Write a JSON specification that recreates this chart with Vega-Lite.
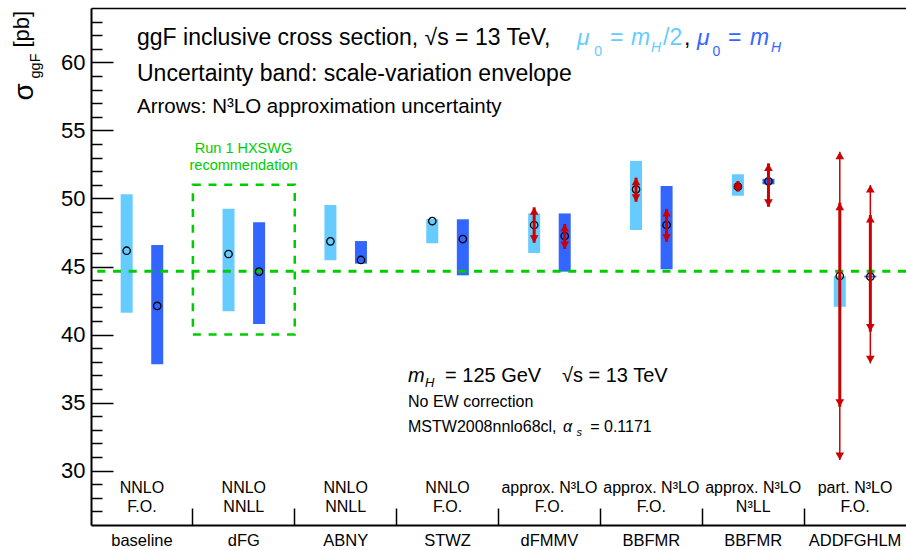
{
  "$schema": "https://vega.github.io/schema/vega-lite/v6.json",
  "width": 815,
  "height": 517,
  "autosize": "none",
  "padding": {"left": 91, "top": 8, "right": 0, "bottom": 25},
  "background": "white",
  "config": {
    "view": {"stroke": null},
    "font": "Liberation Sans",
    "text": {"font": "Liberation Sans", "color": "black"},
    "axis": {"labelFont": "Liberation Sans", "titleFont": "Liberation Sans", "labelColor": "black", "titleColor": "black", "titleFontWeight": "normal", "domainColor": "black", "tickColor": "black", "grid": false}
  },
  "datasets": {
    "bands": [
      {"key": "baseline", "scale": "mH/2", "central": 46.16, "low": 41.60, "high": 50.31},
      {"key": "baseline", "scale": "mH", "central": 42.10, "low": 37.81, "high": 46.58},
      {"key": "dFG", "scale": "mH/2", "central": 45.92, "low": 41.71, "high": 49.25},
      {"key": "dFG", "scale": "mH", "central": 44.62, "low": 40.77, "high": 48.25},
      {"key": "ABNY", "scale": "mH/2", "central": 46.85, "low": 45.46, "high": 49.52},
      {"key": "ABNY", "scale": "mH", "central": 45.48, "low": 45.21, "high": 46.87},
      {"key": "STWZ", "scale": "mH/2", "central": 48.34, "low": 46.71, "high": 48.49},
      {"key": "STWZ", "scale": "mH", "central": 47.02, "low": 44.35, "high": 48.47},
      {"key": "dFMMV", "scale": "mH/2", "central": 48.05, "low": 45.99, "high": 48.90},
      {"key": "dFMMV", "scale": "mH", "central": 47.24, "low": 44.62, "high": 48.90},
      {"key": "BBFMR F.O.", "scale": "mH/2", "central": 50.67, "low": 47.68, "high": 52.75},
      {"key": "BBFMR F.O.", "scale": "mH", "central": 48.05, "low": 44.79, "high": 50.92},
      {"key": "BBFMR N3LL", "scale": "mH/2", "central": 50.87, "low": 50.20, "high": 51.78},
      {"key": "BBFMR N3LL", "scale": "mH", "central": 51.26, "low": 51.04, "high": 51.45},
      {"key": "ADDFGHLM", "scale": "mH/2", "central": 44.30, "low": 42.04, "high": 44.30},
      {"key": "ADDFGHLM", "scale": "mH", "central": 44.25, "low": 44.19, "high": 44.33}
    ],
    "arrows": [
      {"key": "dFMMV", "scale": "mH/2", "kind": "inner", "lo": 46.75, "hi": 49.35},
      {"key": "dFMMV", "scale": "mH", "kind": "inner", "lo": 46.29, "hi": 48.12},
      {"key": "BBFMR F.O.", "scale": "mH/2", "kind": "inner", "lo": 49.76, "hi": 51.53},
      {"key": "BBFMR F.O.", "scale": "mH", "kind": "inner", "lo": 46.82, "hi": 49.23},
      {"key": "BBFMR N3LL", "scale": "mH/2", "kind": "inner", "lo": 50.50, "hi": 51.28},
      {"key": "BBFMR N3LL", "scale": "mH", "kind": "inner", "lo": 49.39, "hi": 52.58},
      {"key": "ADDFGHLM", "scale": "mH/2", "kind": "outer", "lo": 30.78, "hi": 53.44},
      {"key": "ADDFGHLM", "scale": "mH/2", "kind": "inner", "lo": 34.69, "hi": 49.69},
      {"key": "ADDFGHLM", "scale": "mH", "kind": "outer", "lo": 37.88, "hi": 50.99},
      {"key": "ADDFGHLM", "scale": "mH", "kind": "inner", "lo": 40.21, "hi": 48.78}
    ],
    "cats": [
      {"key": "baseline", "method": "NNLO\nF.O."},
      {"key": "dFG", "method": "NNLO\nNNLL"},
      {"key": "ABNY", "method": "NNLO\nNNLL"},
      {"key": "STWZ", "method": "NNLO\nF.O."},
      {"key": "dFMMV", "method": "approx. N³LO\nF.O."},
      {"key": "BBFMR F.O.", "method": "approx. N³LO\nF.O."},
      {"key": "BBFMR N3LL", "method": "approx. N³LO\nN³LL"},
      {"key": "ADDFGHLM", "method": "part. N³LO\nF.O."}
    ]
  },
  "resolve": {"scale": {"x": "independent"}, "axis": {"x": "independent", "y": "independent"}},
  "layer": [
    {
      "data": {"name": "bands"},
      "mark": {"type": "bar", "width": 12},
      "encoding": {
        "x": {"field": "key", "type": "nominal",
          "scale": {"domain": ["baseline", "dFG", "ABNY", "STWZ", "dFMMV", "BBFMR F.O.", "BBFMR N3LL", "ADDFGHLM"], "paddingInner": 0, "paddingOuter": 0},
          "axis": {"orient": "bottom", "title": null, "ticks": false, "tickSize": 0, "domain": true, "domainWidth": 2, "labelFontSize": 16.5, "labelBaseline": "alphabetic", "labelPadding": 20, "labelAngle": 0, "labelExpr": "split(datum.label, ' ')[0]"}},
        "xOffset": {"field": "scale", "type": "nominal", "scale": {"domain": ["mH/2", "mH"], "paddingInner": 0, "paddingOuter": 0.667}},
        "y": {"field": "low", "type": "quantitative", "scale": {"domain": [26, 64], "nice": false, "zero": false},
          "axis": {"orient": "left", "values": [30, 35, 40, 45, 50, 55, 60], "ticks": false, "tickSize": 0, "labelPadding": 6, "labelFontSize": 22, "domain": true, "domainWidth": 2, "title": "[pb]", "titleFontSize": 22, "titleAngle": 270, "titleAlign": "left", "titleBaseline": "alphabetic", "titleX": -62.6, "titleY": 39}},
        "y2": {"field": "high"},
        "color": {"field": "scale", "type": "nominal", "scale": {"domain": ["mH/2", "mH"], "range": ["#66ccff", "#3366ff"]}, "legend": null}
      }
    },
    {
      "data": {"values": [{"label": "Run 1 HXSWG recommendation", "value": 44.66}]},
      "mark": {"type": "rule", "color": "#00cc00", "strokeWidth": 3, "strokeDash": [8, 7.7]},
      "encoding": {
        "y": {"field": "value", "type": "quantitative", "scale": {"domain": [26, 64], "nice": false, "zero": false}, "axis": null}
      }
    },
    {
      "data": {"values": [{"key": "dFG", "low": 40, "high": 51}]},
      "mark": {"type": "rect", "fillOpacity": 0, "stroke": "#00cc00", "strokeWidth": 2.5, "strokeDash": [8, 7.7]},
      "encoding": {
        "x": {"field": "key", "type": "nominal",
          "scale": {"domain": ["baseline", "dFG", "ABNY", "STWZ", "dFMMV", "BBFMR F.O.", "BBFMR N3LL", "ADDFGHLM"], "paddingInner": 0, "paddingOuter": 0},
          "axis": {"orient": "top", "title": null, "labels": false, "ticks": false, "domain": true, "domainWidth": 1.5}},
        "y": {"field": "low", "type": "quantitative", "scale": {"domain": [26, 64], "nice": false, "zero": false}, "axis": null},
        "y2": {"field": "high"}
      }
    },
    {
      "data": {"name": "bands"},
      "mark": {"type": "point", "shape": "circle", "filled": false, "stroke": "black", "strokeWidth": 1.3, "size": 55, "opacity": 1},
      "encoding": {
        "x": {"field": "key", "type": "nominal",
          "scale": {"domain": ["baseline", "dFG", "ABNY", "STWZ", "dFMMV", "BBFMR F.O.", "BBFMR N3LL", "ADDFGHLM"], "paddingInner": 0, "paddingOuter": 0},
          "axis": {"orient": "bottom", "bandPosition": 0, "values": ["dFG", "ABNY", "STWZ", "dFMMV", "BBFMR F.O.", "BBFMR N3LL", "ADDFGHLM"], "labels": false, "domain": false, "ticks": true, "tickSize": -17, "tickWidth": 1.5, "title": null}},
        "xOffset": {"field": "scale", "type": "nominal", "scale": {"domain": ["mH/2", "mH"], "paddingInner": 0, "paddingOuter": 0.667}},
        "y": {"field": "central", "type": "quantitative", "scale": {"domain": [26, 64], "nice": false, "zero": false},
          "axis": {"orient": "left", "values": [30, 35, 40, 45, 50, 55, 60], "labels": false, "domain": false, "ticks": true, "tickSize": -22, "tickWidth": 1.5, "title": "σ", "titleFontSize": 28, "titleAngle": 270, "titleAlign": "left", "titleBaseline": "alphabetic", "titleX": -59, "titleY": 92}}
      }
    },
    {
      "data": {"name": "arrows"},
      "mark": {"type": "rule", "color": "#cc0000"},
      "encoding": {
        "x": {"field": "key", "type": "nominal",
          "scale": {"domain": ["baseline", "dFG", "ABNY", "STWZ", "dFMMV", "BBFMR F.O.", "BBFMR N3LL", "ADDFGHLM"], "paddingInner": 0, "paddingOuter": 0}, "axis": null},
        "xOffset": {"field": "scale", "type": "nominal", "scale": {"domain": ["mH/2", "mH"], "paddingInner": 0, "paddingOuter": 0.667}},
        "y": {"field": "lo", "type": "quantitative", "scale": {"domain": [26, 64], "nice": false, "zero": false},
          "axis": {"orient": "left", "values": [27, 28, 29, 31, 32, 33, 34, 36, 37, 38, 39, 41, 42, 43, 44, 46, 47, 48, 49, 51, 52, 53, 54, 56, 57, 58, 59, 61, 62, 63], "labels": false, "domain": false, "ticks": true, "tickSize": -11, "tickWidth": 1.5, "title": "ggF", "titleFontSize": 14.5, "titleAngle": 270, "titleAlign": "left", "titleBaseline": "alphabetic", "titleX": -52, "titleY": 70}},
        "y2": {"field": "hi"},
        "strokeWidth": {"field": "kind", "type": "nominal", "scale": {"domain": ["inner", "outer"], "range": [3, 1.5]}, "legend": null}
      }
    },
    {
      "data": {"name": "arrows"},
      "mark": {"type": "point", "shape": "triangle-up", "filled": true, "color": "#cc0000", "size": 75, "opacity": 1, "yOffset": 3.8},
      "encoding": {
        "x": {"field": "key", "type": "nominal",
          "scale": {"domain": ["baseline", "dFG", "ABNY", "STWZ", "dFMMV", "BBFMR F.O.", "BBFMR N3LL", "ADDFGHLM"], "paddingInner": 0, "paddingOuter": 0}, "axis": null},
        "xOffset": {"field": "scale", "type": "nominal", "scale": {"domain": ["mH/2", "mH"], "paddingInner": 0, "paddingOuter": 0.667}},
        "y": {"field": "hi", "type": "quantitative", "scale": {"domain": [26, 64], "nice": false, "zero": false}, "axis": null}
      }
    },
    {
      "data": {"name": "arrows"},
      "mark": {"type": "point", "shape": "triangle-down", "filled": true, "color": "#cc0000", "size": 75, "opacity": 1, "yOffset": -3.8},
      "encoding": {
        "x": {"field": "key", "type": "nominal",
          "scale": {"domain": ["baseline", "dFG", "ABNY", "STWZ", "dFMMV", "BBFMR F.O.", "BBFMR N3LL", "ADDFGHLM"], "paddingInner": 0, "paddingOuter": 0}, "axis": null},
        "xOffset": {"field": "scale", "type": "nominal", "scale": {"domain": ["mH/2", "mH"], "paddingInner": 0, "paddingOuter": 0.667}},
        "y": {"field": "lo", "type": "quantitative", "scale": {"domain": [26, 64], "nice": false, "zero": false}, "axis": null}
      }
    },
    {
      "data": {"name": "cats"},
      "mark": {"type": "text", "fontSize": 16, "lineBreak": "\n", "lineHeight": 19, "baseline": "alphabetic", "align": "center", "color": "black"},
      "encoding": {
        "x": {"field": "key", "type": "nominal",
          "scale": {"domain": ["baseline", "dFG", "ABNY", "STWZ", "dFMMV", "BBFMR F.O.", "BBFMR N3LL", "ADDFGHLM"], "paddingInner": 0, "paddingOuter": 0}, "axis": null},
        "y": {"datum": 28.33, "type": "quantitative", "scale": {"domain": [26, 64], "nice": false, "zero": false}, "axis": null},
        "text": {"field": "method"}
      }
    },
    {"data": {"values": [{"label": "ggF inclusive cross section, √s = 13 TeV,"}]},
     "mark": {"type": "text", "fontSize": 23, "align": "left", "baseline": "alphabetic", "color": "black"},
     "encoding": {"x": {"datum": 0.4515, "type": "quantitative", "scale": {"domain": [0, 8], "nice": false, "zero": false}, "axis": null},
       "y": {"datum": 61.28, "type": "quantitative", "scale": {"domain": [26, 64], "nice": false, "zero": false}, "axis": null}, "text": {"field": "label"}}},
    {"data": {"values": [{"label": "μ"}]},
     "mark": {"type": "text", "fontSize": 23, "fontStyle": "italic", "align": "left", "baseline": "alphabetic", "color": "#66ccff"},
     "encoding": {"x": {"datum": 4.771, "type": "quantitative", "scale": {"domain": [0, 8], "nice": false, "zero": false}, "axis": null},
       "y": {"datum": 61.28, "type": "quantitative", "scale": {"domain": [26, 64], "nice": false, "zero": false}, "axis": null}, "text": {"field": "label"}}},
    {"data": {"values": [{"label": "0"}]},
     "mark": {"type": "text", "fontSize": 14, "align": "left", "baseline": "alphabetic", "color": "#66ccff"},
     "encoding": {"x": {"datum": 4.94, "type": "quantitative", "scale": {"domain": [0, 8], "nice": false, "zero": false}, "axis": null},
       "y": {"datum": 60.47, "type": "quantitative", "scale": {"domain": [26, 64], "nice": false, "zero": false}, "axis": null}, "text": {"field": "label"}}},
    {"data": {"values": [{"label": "="}]},
     "mark": {"type": "text", "fontSize": 23, "align": "left", "baseline": "alphabetic", "color": "#66ccff"},
     "encoding": {"x": {"datum": 5.094, "type": "quantitative", "scale": {"domain": [0, 8], "nice": false, "zero": false}, "axis": null},
       "y": {"datum": 61.28, "type": "quantitative", "scale": {"domain": [26, 64], "nice": false, "zero": false}, "axis": null}, "text": {"field": "label"}}},
    {"data": {"values": [{"label": "m"}]},
     "mark": {"type": "text", "fontSize": 23, "fontStyle": "italic", "align": "left", "baseline": "alphabetic", "color": "#66ccff"},
     "encoding": {"x": {"datum": 5.301, "type": "quantitative", "scale": {"domain": [0, 8], "nice": false, "zero": false}, "axis": null},
       "y": {"datum": 61.28, "type": "quantitative", "scale": {"domain": [26, 64], "nice": false, "zero": false}, "axis": null}, "text": {"field": "label"}}},
    {"data": {"values": [{"label": "H"}]},
     "mark": {"type": "text", "fontSize": 14, "fontStyle": "italic", "align": "left", "baseline": "alphabetic", "color": "#66ccff"},
     "encoding": {"x": {"datum": 5.497, "type": "quantitative", "scale": {"domain": [0, 8], "nice": false, "zero": false}, "axis": null},
       "y": {"datum": 60.77, "type": "quantitative", "scale": {"domain": [26, 64], "nice": false, "zero": false}, "axis": null}, "text": {"field": "label"}}},
    {"data": {"values": [{"label": "/2"}]},
     "mark": {"type": "text", "fontSize": 23, "align": "left", "baseline": "alphabetic", "color": "#66ccff"},
     "encoding": {"x": {"datum": 5.615, "type": "quantitative", "scale": {"domain": [0, 8], "nice": false, "zero": false}, "axis": null},
       "y": {"datum": 61.28, "type": "quantitative", "scale": {"domain": [26, 64], "nice": false, "zero": false}, "axis": null}, "text": {"field": "label"}}},
    {"data": {"values": [{"label": ","}]},
     "mark": {"type": "text", "fontSize": 23, "align": "left", "baseline": "alphabetic", "color": "black"},
     "encoding": {"x": {"datum": 5.821, "type": "quantitative", "scale": {"domain": [0, 8], "nice": false, "zero": false}, "axis": null},
       "y": {"datum": 61.28, "type": "quantitative", "scale": {"domain": [26, 64], "nice": false, "zero": false}, "axis": null}, "text": {"field": "label"}}},
    {"data": {"values": [{"label": "μ"}]},
     "mark": {"type": "text", "fontSize": 23, "fontStyle": "italic", "align": "left", "baseline": "alphabetic", "color": "#3366ff"},
     "encoding": {"x": {"datum": 5.948, "type": "quantitative", "scale": {"domain": [0, 8], "nice": false, "zero": false}, "axis": null},
       "y": {"datum": 61.28, "type": "quantitative", "scale": {"domain": [26, 64], "nice": false, "zero": false}, "axis": null}, "text": {"field": "label"}}},
    {"data": {"values": [{"label": "0"}]},
     "mark": {"type": "text", "fontSize": 14, "align": "left", "baseline": "alphabetic", "color": "#3366ff"},
     "encoding": {"x": {"datum": 6.1, "type": "quantitative", "scale": {"domain": [0, 8], "nice": false, "zero": false}, "axis": null},
       "y": {"datum": 60.47, "type": "quantitative", "scale": {"domain": [26, 64], "nice": false, "zero": false}, "axis": null}, "text": {"field": "label"}}},
    {"data": {"values": [{"label": "="}]},
     "mark": {"type": "text", "fontSize": 23, "align": "left", "baseline": "alphabetic", "color": "#3366ff"},
     "encoding": {"x": {"datum": 6.253, "type": "quantitative", "scale": {"domain": [0, 8], "nice": false, "zero": false}, "axis": null},
       "y": {"datum": 61.28, "type": "quantitative", "scale": {"domain": [26, 64], "nice": false, "zero": false}, "axis": null}, "text": {"field": "label"}}},
    {"data": {"values": [{"label": "m"}]},
     "mark": {"type": "text", "fontSize": 23, "fontStyle": "italic", "align": "left", "baseline": "alphabetic", "color": "#3366ff"},
     "encoding": {"x": {"datum": 6.469, "type": "quantitative", "scale": {"domain": [0, 8], "nice": false, "zero": false}, "axis": null},
       "y": {"datum": 61.28, "type": "quantitative", "scale": {"domain": [26, 64], "nice": false, "zero": false}, "axis": null}, "text": {"field": "label"}}},
    {"data": {"values": [{"label": "H"}]},
     "mark": {"type": "text", "fontSize": 14, "fontStyle": "italic", "align": "left", "baseline": "alphabetic", "color": "#3366ff"},
     "encoding": {"x": {"datum": 6.675, "type": "quantitative", "scale": {"domain": [0, 8], "nice": false, "zero": false}, "axis": null},
       "y": {"datum": 60.77, "type": "quantitative", "scale": {"domain": [26, 64], "nice": false, "zero": false}, "axis": null}, "text": {"field": "label"}}},
    {"data": {"values": [{"label": "Uncertainty band: scale-variation envelope"}]},
     "mark": {"type": "text", "fontSize": 23, "align": "left", "baseline": "alphabetic", "color": "black"},
     "encoding": {"x": {"datum": 0.4515, "type": "quantitative", "scale": {"domain": [0, 8], "nice": false, "zero": false}, "axis": null},
       "y": {"datum": 58.63, "type": "quantitative", "scale": {"domain": [26, 64], "nice": false, "zero": false}, "axis": null}, "text": {"field": "label"}}},
    {"data": {"values": [{"label": "Arrows: N³LO approximation uncertainty"}]},
     "mark": {"type": "text", "fontSize": 20.5, "align": "left", "baseline": "alphabetic", "color": "black"},
     "encoding": {"x": {"datum": 0.4515, "type": "quantitative", "scale": {"domain": [0, 8], "nice": false, "zero": false}, "axis": null},
       "y": {"datum": 56.28, "type": "quantitative", "scale": {"domain": [26, 64], "nice": false, "zero": false}, "axis": null}, "text": {"field": "label"}}},
    {"data": {"values": [{"label": "Run 1 HXSWG"}]},
     "mark": {"type": "text", "fontSize": 14.5, "align": "center", "baseline": "alphabetic", "color": "#00cc00"},
     "encoding": {"x": {"datum": 1.497, "type": "quantitative", "scale": {"domain": [0, 8], "nice": false, "zero": false}, "axis": null},
       "y": {"datum": 53.34, "type": "quantitative", "scale": {"domain": [26, 64], "nice": false, "zero": false}, "axis": null}, "text": {"field": "label"}}},
    {"data": {"values": [{"label": "recommendation"}]},
     "mark": {"type": "text", "fontSize": 14.5, "align": "center", "baseline": "alphabetic", "color": "#00cc00"},
     "encoding": {"x": {"datum": 1.497, "type": "quantitative", "scale": {"domain": [0, 8], "nice": false, "zero": false}, "axis": null},
       "y": {"datum": 52.09, "type": "quantitative", "scale": {"domain": [26, 64], "nice": false, "zero": false}, "axis": null}, "text": {"field": "label"}}},
    {"data": {"values": [{"label": "m"}]},
     "mark": {"type": "text", "fontSize": 20, "fontStyle": "italic", "align": "left", "baseline": "alphabetic", "color": "black"},
     "encoding": {"x": {"datum": 3.112, "type": "quantitative", "scale": {"domain": [0, 8], "nice": false, "zero": false}, "axis": null},
       "y": {"datum": 36.53, "type": "quantitative", "scale": {"domain": [26, 64], "nice": false, "zero": false}, "axis": null}, "text": {"field": "label"}}},
    {"data": {"values": [{"label": "H"}]},
     "mark": {"type": "text", "fontSize": 13, "fontStyle": "italic", "align": "left", "baseline": "alphabetic", "color": "black"},
     "encoding": {"x": {"datum": 3.279, "type": "quantitative", "scale": {"domain": [0, 8], "nice": false, "zero": false}, "axis": null},
       "y": {"datum": 36.14, "type": "quantitative", "scale": {"domain": [26, 64], "nice": false, "zero": false}, "axis": null}, "text": {"field": "label"}}},
    {"data": {"values": [{"label": "= 125 GeV"}]},
     "mark": {"type": "text", "fontSize": 20, "align": "left", "baseline": "alphabetic", "color": "black"},
     "encoding": {"x": {"datum": 3.475, "type": "quantitative", "scale": {"domain": [0, 8], "nice": false, "zero": false}, "axis": null},
       "y": {"datum": 36.53, "type": "quantitative", "scale": {"domain": [26, 64], "nice": false, "zero": false}, "axis": null}, "text": {"field": "label"}}},
    {"data": {"values": [{"label": "√s = 13 TeV"}]},
     "mark": {"type": "text", "fontSize": 20, "align": "left", "baseline": "alphabetic", "color": "black"},
     "encoding": {"x": {"datum": 4.623, "type": "quantitative", "scale": {"domain": [0, 8], "nice": false, "zero": false}, "axis": null},
       "y": {"datum": 36.53, "type": "quantitative", "scale": {"domain": [26, 64], "nice": false, "zero": false}, "axis": null}, "text": {"field": "label"}}},
    {"data": {"values": [{"label": "No EW correction"}]},
     "mark": {"type": "text", "fontSize": 16, "align": "left", "baseline": "alphabetic", "color": "black"},
     "encoding": {"x": {"datum": 3.112, "type": "quantitative", "scale": {"domain": [0, 8], "nice": false, "zero": false}, "axis": null},
       "y": {"datum": 34.69, "type": "quantitative", "scale": {"domain": [26, 64], "nice": false, "zero": false}, "axis": null}, "text": {"field": "label"}}},
    {"data": {"values": [{"label": "MSTW2008nnlo68cl,"}]},
     "mark": {"type": "text", "fontSize": 16, "align": "left", "baseline": "alphabetic", "color": "black"},
     "encoding": {"x": {"datum": 3.112, "type": "quantitative", "scale": {"domain": [0, 8], "nice": false, "zero": false}, "axis": null},
       "y": {"datum": 32.86, "type": "quantitative", "scale": {"domain": [26, 64], "nice": false, "zero": false}, "axis": null}, "text": {"field": "label"}}},
    {"data": {"values": [{"label": "α"}]},
     "mark": {"type": "text", "fontSize": 16, "fontStyle": "italic", "align": "left", "baseline": "alphabetic", "color": "black"},
     "encoding": {"x": {"datum": 4.633, "type": "quantitative", "scale": {"domain": [0, 8], "nice": false, "zero": false}, "axis": null},
       "y": {"datum": 32.86, "type": "quantitative", "scale": {"domain": [26, 64], "nice": false, "zero": false}, "axis": null}, "text": {"field": "label"}}},
    {"data": {"values": [{"label": "s"}]},
     "mark": {"type": "text", "fontSize": 11, "fontStyle": "italic", "align": "left", "baseline": "alphabetic", "color": "black"},
     "encoding": {"x": {"datum": 4.765, "type": "quantitative", "scale": {"domain": [0, 8], "nice": false, "zero": false}, "axis": null},
       "y": {"datum": 32.54, "type": "quantitative", "scale": {"domain": [26, 64], "nice": false, "zero": false}, "axis": null}, "text": {"field": "label"}}},
    {"data": {"values": [{"label": "= 0.1171"}]},
     "mark": {"type": "text", "fontSize": 16, "align": "left", "baseline": "alphabetic", "color": "black"},
     "encoding": {"x": {"datum": 4.90, "type": "quantitative", "scale": {"domain": [0, 8], "nice": false, "zero": false}, "axis": null},
       "y": {"datum": 32.86, "type": "quantitative", "scale": {"domain": [26, 64], "nice": false, "zero": false}, "axis": null}, "text": {"field": "label"}}}
  ]
}
